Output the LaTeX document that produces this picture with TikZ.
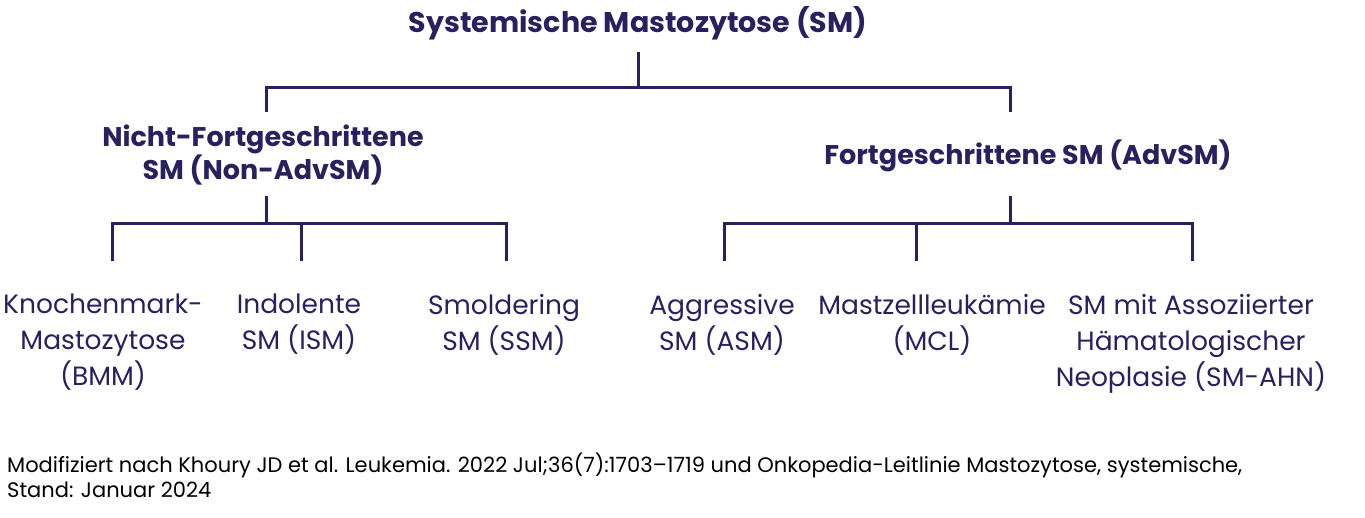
\documentclass[tikz,border=0pt]{standalone}
\usepackage{fontspec}
\setmainfont{Poppins}
\usepackage{tikz}
\usetikzlibrary{positioning}
\definecolor{Navy}{RGB}{40, 33, 96}

\tikzset{
  head/.style={font=\fontsize{27}{33}\selectfont\bfseries, text=Navy, align=center, inner sep=0pt},
  leaf/.style={font=\fontsize{26.5}{36}\selectfont, text=Navy, align=center, inner sep=0pt, anchor=north},
  branch/.style={draw=Navy, line width=3pt},
}

\begin{document}
\begin{tikzpicture}[x=1pt, y=-1pt]
    \useasboundingbox (0,0) rectangle (1365,518);

    % Top level
    \node[head, font=\fontsize{28.5}{33}\selectfont\bfseries] (sm) at (638,23) {Systemische Mastozytose (SM)};
    \node[head] (nonadv) at (263,155) {Nicht-Fortgeschrittene\\SM (Non-AdvSM)};
    \node[head] (adv) at (1028,156) {Fortgeschrittene SM (AdvSM)};

    % Junctions
    \coordinate (s0) at (638,52);
    \coordinate (j0) at (638,88);
    \coordinate (t1) at (266,112);
    \coordinate (t2) at (1010,112);
    \draw[branch] (s0) -- (j0);
    \draw[branch] (t1) |- (j0) -| (t2);

    % Leaves: non-advanced
    \node[leaf] (bmm) at (103,294) {Knochenmark-\\Mastozytose\\(BMM)};
    \node[leaf] (ism) at (299,294) {Indolente\\SM (ISM)};
    \node[leaf] (ssm) at (504,294) {Smoldering\\SM (SSM)};

    % Leaves: advanced
    \node[leaf] (asm) at (722,294) {Aggressive\\SM (ASM)};
    \node[leaf] (mcl) at (932,294) {Mastzellleukämie\\(MCL)};
    \node[leaf] (ahn) at (1191,294) {SM mit Assoziierter\\Hämatologischer\\Neoplasie (SM-AHN)};

    % Left subtree
    \coordinate (s1) at (266,196);
    \coordinate (j1) at (266,224);
    \coordinate (b1) at (112,261);
    \coordinate (b2) at (301,261);
    \coordinate (b3) at (506,261);
    \draw[branch] (s1) -- (j1);
    \draw[branch] (b1) |- (j1) -| (b3);
    \draw[branch] (b2) -- (b2 |- j1);

    % Right subtree
    \coordinate (s2) at (1010,196);
    \coordinate (j2) at (1010,224);
    \coordinate (b4) at (724,261);
    \coordinate (b5) at (916,261);
    \coordinate (b6) at (1192,261);
    \draw[branch] (s2) -- (j2);
    \draw[branch] (b4) |- (j2) -| (b6);
    \draw[branch] (b5) -- (b5 |- j2);

    % Source
    \node[font=\fontsize{21}{25}\selectfont, align=left, anchor=north west, inner sep=0pt] (src) at (7,453)
      {Modifiziert nach Khoury JD et al. Leukemia. 2022 Jul;36(7):1703--1719 und Onkopedia-Leitlinie Mastozytose, systemische,\\Stand: Januar 2024};
\end{tikzpicture}
\end{document}
